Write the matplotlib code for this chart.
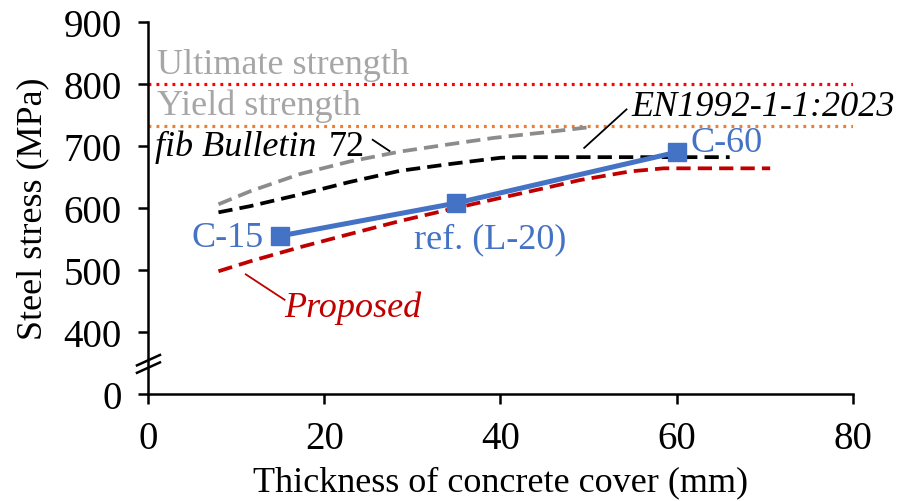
import matplotlib
matplotlib.use('Agg')
import matplotlib.pyplot as plt

plt.rcParams['font.family'] = ['Liberation Serif', 'DejaVu Serif']

# Measured specimens (blue squares)
test_x = [15, 35, 60]
test_y = [555, 608, 690]
test_labels = ['C-15', 'ref. (L-20)', 'C-60']

# fib Bulletin 72 prediction
fib_x = [8, 11.6, 17.3, 22.9, 28.6, 34.3, 39.2, 45, 50.5]
fib_y = [606, 627, 655, 675, 691, 703, 713, 722, 731]

# EN1992-1-1:2023 prediction
en_x = [8, 11.6, 17.3, 22.9, 28.6, 34.3, 37.7, 40, 42, 66]
en_y = [593, 603, 622, 642, 660, 671, 677, 681, 682, 682]

# Proposed model
prop_x = [8, 11.6, 17.3, 22.9, 28.6, 34.3, 39.6, 45, 49, 54.7, 58.5, 70.6]
prop_y = [498, 514, 537, 558, 579, 598, 615, 632, 645, 659, 664, 664]

ultimate = 800
yield_strength = 733

y_ticks = [300, 400, 500, 600, 700, 800, 900]
y_ticklabels = ['0', '400', '500', '600', '700', '800', '900']
x_ticks = [0, 20, 40, 60, 80]

fig = plt.figure(figsize=(9, 5.02), dpi=100)
ax = fig.add_axes([0.1644, 0.2131, 0.7834, 0.7411])

# Strength limits
ax.plot([0, 80], [ultimate, ultimate], color='#FF0000', lw=2.3,
        linestyle=(0, (0.9, 1.6)))
ax.plot([0, 80], [yield_strength, yield_strength], color='#ED7D31', lw=2.3,
        linestyle=(0, (0.9, 1.6)))

# Model curves
dash = (0, (3.8, 1.9))
ax.plot(fib_x, fib_y, color='#8C8C8C', lw=2.7, linestyle=dash)
ax.plot(en_x, en_y, color='black', lw=2.7, linestyle=dash)
ax.plot(prop_x, prop_y, color='#C00000', lw=2.7, linestyle=dash)

# Tests
ax.plot(test_x, test_y, color='#4472C4', lw=3.6, marker='s', markersize=12.5,
        zorder=5)

fs = 26
fs_tick = 28
blue = '#4472C4'
ax.text(test_x[0] - 1.9, 553, test_labels[0], color=blue,
        fontsize=fs, ha='right', va='center')
ax.text(38.8, 550, test_labels[1], color=blue,
        fontsize=fs, ha='center', va='center')
ax.text(test_x[2] + 1.6, 706, test_labels[2], color=blue,
        fontsize=fs, ha='left', va='center')

gray_txt = '#A6A6A6'
ax.text(1.0, 832, 'Ultimate strength', color=gray_txt, fontsize=fs,
        ha='left', va='center')
ax.text(1.0, 766, 'Yield strength', color=gray_txt, fontsize=fs,
        ha='left', va='center')

# Curve labels with leader lines
ax.text(0.8, 700, 'fib Bulletin', fontsize=fs, style='italic',
        ha='left', va='center')
ax.text(20.5, 700, '72', fontsize=fs, ha='left', va='center')
ax.plot([25.5, 27.4], [710, 692], color='black', lw=1.3)

ax.text(54.9, 763, 'EN1992-1-1:2023', fontsize=fs, style='italic',
        ha='left', va='center')
ax.plot([54.3, 49.5], [759, 697], color='black', lw=1.3)

ax.text(15.5, 440, 'Proposed', fontsize=fs, style='italic', color='#C00000',
        ha='left', va='center')
ax.plot([11.1, 15.5], [493, 452], color='#C00000', lw=1.3)

# Axes
ax.set_xlim(0, 80)
ax.set_ylim(300, 900)
ax.set_xticks(x_ticks)
ax.set_yticks(y_ticks)
ax.set_yticklabels(y_ticklabels)
ax.tick_params(axis='both', labelsize=fs_tick, length=7, width=1.8,
               direction='out')
ax.tick_params(axis='x', pad=12)
ax.tick_params(axis='y', pad=12)
for side in ['top', 'right']:
    ax.spines[side].set_visible(False)
for side in ['left', 'bottom']:
    ax.spines[side].set_linewidth(1.8)

ax.set_xlabel('Thickness of concrete cover (mm)', fontsize=fs, labelpad=6)
ax.set_ylabel('Steel stress (MPa)', fontsize=fs, labelpad=10)

# Axis break marks
for y0 in [0.057, 0.077]:
    ax.plot([-0.0156, 0.017], [y0, y0 + 0.028], transform=ax.transAxes,
            color='black', lw=1.8, clip_on=False)

fig.savefig('out.png', dpi=100)
